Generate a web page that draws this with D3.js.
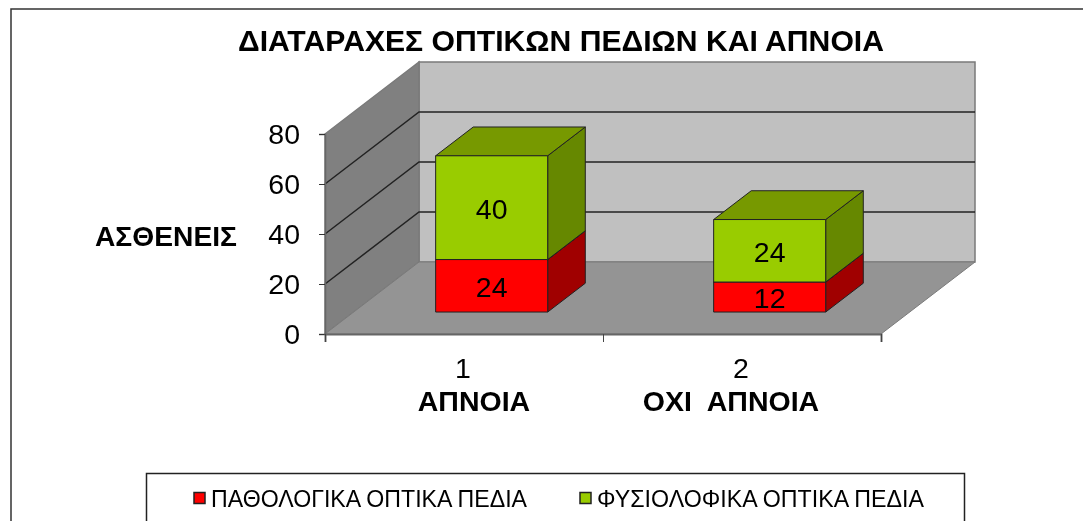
<!DOCTYPE html>
<html>
<head>
<meta charset="utf-8">
<script src="https://cdn.jsdelivr.net/npm/d3@7"></script>
<style>
html, body { margin: 0; padding: 0; background: #fff; overflow: hidden; }
svg { filter: blur(0.45px); }
text { font-family: "Liberation Sans", Arial, sans-serif; fill: #000; }
</style>
</head>
<body>
<svg id="chart" width="1083" height="521"></svg>
<script>
const titleText = 'ΔΙΑΤΑΡΑΧΕΣ ΟΠΤΙΚΩΝ ΠΕΔΙΩΝ ΚΑΙ ΑΠΝΟΙΑ';
const yAxisTitle = 'ΑΣΘΕΝΕΙΣ';
const categories = ['1', '2'];
const categoryNames = ['ΑΠΝΟΙΑ', 'ΟΧΙ  ΑΠΝΟΙΑ'];
const yTicks = [0, 20, 40, 60, 80];
const seriesNames = ['ΠΑΘΟΛΟΓΙΚΑ ΟΠΤΙΚΑ ΠΕΔΙΑ', 'ΦΥΣΙΟΛΟΦΙΚΑ ΟΠΤΙΚΑ ΠΕΔΙΑ'];
// printed labels
const pathLabels = [24, 12];
const normalLabels = [40, 24];
// heights as drawn against the axis (the first red bar is drawn lower than its label says)
const pathValues = [21, 12];
const normalValues = [41.5, 25];

const colors = [
    { front: '#ff0000', top: '#b00000', side: '#a00000' },
    { front: '#99cc00', top: '#779900', side: '#668800' }
];

const svg = d3.select('#chart');

// 3D box geometry
const x0 = 325, x1 = 881, y0 = 334, y1 = 134;
const depthX = 94, depthY = 72;
const barDepthStart = 0.305, barDepthEnd = 0.705;

const y = d3.scaleLinear().domain([0, 80]).range([y0, y1]);
const xBand = d3.scaleBand().domain(categories).range([x0 - 1, x1 - 1]).paddingInner(0.597).paddingOuter(0.2985);
const xEdges = d3.scaleLinear().domain([0, 2]).range([x0, x1]);

const pt = (x, v, d) => [x + d * depthX, y(v) - d * depthY];
const poly = (pts) => 'M' + pts.map(p => p.join(',')).join('L') + 'Z';

// outer frame, open at right and bottom
svg.append('path')
    .attr('d', 'M11,521L11,9L1083,9')
    .attr('fill', 'none').attr('stroke', '#333').attr('stroke-width', 1.5);

// walls and floor
const wallEdge = '#7a7a7a';
svg.append('path')
    .attr('d', poly([pt(x0, 0, 1), pt(x1, 0, 1), pt(x1, 80, 1), pt(x0, 80, 1)]))
    .attr('fill', '#c0c0c0').attr('stroke', wallEdge).attr('stroke-width', 1.5);
svg.append('path')
    .attr('d', poly([pt(x0, 0, 0), pt(x0, 0, 1), pt(x0, 80, 1), pt(x0, 80, 0)]))
    .attr('fill', '#808080').attr('stroke', wallEdge).attr('stroke-width', 1.5);
svg.append('path')
    .attr('d', poly([pt(x0, 0, 0), pt(x1, 0, 0), pt(x1, 0, 1), pt(x0, 0, 1)]))
    .attr('fill', '#949494').attr('stroke', wallEdge).attr('stroke-width', 1);

// gridlines
svg.append('g').selectAll('path')
    .data(yTicks.filter(d => d > 0 && d < 80))
    .join('path')
    .attr('d', d => 'M' + pt(x0, d, 0) + 'L' + pt(x0, d, 1) + 'L' + pt(x1, d, 1))
    .attr('fill', 'none').attr('stroke', '#222').attr('stroke-width', 1.5);

// bars
const layers = [
    { values: pathValues, labels: pathLabels, color: colors[0], base: categories.map(() => 0) },
    { values: normalValues, labels: normalLabels, color: colors[1], base: pathValues }
];
const barEdge = '#222';
categories.forEach((c, i) => {
    const left = xBand(c), right = left + xBand.bandwidth();
    layers.forEach((l) => {
        const lo = l.base[i], hi = lo + l.values[i];
        const g = svg.append('g').attr('stroke', barEdge).attr('stroke-width', 1).attr('stroke-linejoin', 'round');
        g.append('path')
            .attr('d', poly([pt(right, lo, barDepthStart), pt(right, lo, barDepthEnd), pt(right, hi, barDepthEnd), pt(right, hi, barDepthStart)]))
            .attr('fill', l.color.side);
        g.append('path')
            .attr('d', poly([pt(left, hi, barDepthStart), pt(right, hi, barDepthStart), pt(right, hi, barDepthEnd), pt(left, hi, barDepthEnd)]))
            .attr('fill', l.color.top);
        g.append('path')
            .attr('d', poly([pt(left, lo, barDepthStart), pt(right, lo, barDepthStart), pt(right, hi, barDepthStart), pt(left, hi, barDepthStart)]))
            .attr('fill', l.color.front);
    });
    layers.forEach((l) => {
        const lo = l.base[i], hi = lo + l.values[i];
        const p = pt((left + right) / 2, (lo + hi) / 2, barDepthStart);
        svg.append('text')
            .attr('x', p[0]).attr('y', p[1] + 11)
            .attr('text-anchor', 'middle')
            .attr('font-size', 28.5)
            .text(l.labels[i]);
    });
});

// y axis
const yAxis = svg.append('g')
    .attr('transform', `translate(${x0},0)`)
    .call(d3.axisLeft(y).tickValues(yTicks).tickSize(6).tickPadding(19));
yAxis.select('.domain').attr('stroke', '#666').attr('stroke-width', 1.5);
yAxis.selectAll('.tick line').attr('stroke', '#333');
yAxis.selectAll('.tick text').attr('font-size', 28.5).attr('font-family', null);

// x axis ticks sit on the category edges
const xAxis = svg.append('g')
    .attr('transform', `translate(0,${y0})`)
    .call(d3.axisBottom(xEdges).tickValues([0, 1, 2]).tickSize(8).tickFormat(''));
xAxis.select('.domain').attr('stroke', '#666').attr('stroke-width', 2);
xAxis.selectAll('.tick line').attr('stroke', '#444');

const catLabel = svg.append('g').attr('text-anchor', 'middle');
categories.forEach((c, i) => {
    const cx = xBand(c) + xBand.bandwidth() / 2;
    catLabel.append('text')
        .attr('x', cx).attr('y', 378)
        .attr('font-size', 28.5)
        .text(c);
    catLabel.append('text')
        .attr('x', i === 0 ? cx + 11 : cx - 10).attr('y', 411)
        .attr('font-size', 28.5).attr('font-weight', 'bold')
        .style('white-space', 'pre')
        .text(categoryNames[i]);
});

// titles
svg.append('text')
    .attr('x', 561).attr('y', 51)
    .attr('text-anchor', 'middle')
    .attr('font-size', 30).attr('font-weight', 'bold')
    .attr('textLength', 646).attr('lengthAdjust', 'spacingAndGlyphs')
    .text(titleText);
svg.append('text')
    .attr('x', 95).attr('y', 246)
    .attr('font-size', 28.5).attr('font-weight', 'bold')
    .attr('textLength', 142).attr('lengthAdjust', 'spacingAndGlyphs')
    .text(yAxisTitle);

// legend, runs off the bottom of the picture
svg.append('path')
    .attr('d', 'M146.5,521L146.5,473.5L964.5,473.5L964.5,521')
    .attr('fill', 'none').attr('stroke', '#222').attr('stroke-width', 1.5);
const legendX = [194, 580];
const legendW = [316, 327];
seriesNames.forEach((name, i) => {
    svg.append('rect')
        .attr('x', legendX[i]).attr('y', 492.5)
        .attr('width', 11).attr('height', 11)
        .attr('fill', colors[i].front).attr('stroke', '#222').attr('stroke-width', 1.5);
    svg.append('text')
        .attr('x', legendX[i] + 17).attr('y', 507)
        .attr('font-size', 24)
        .attr('textLength', legendW[i]).attr('lengthAdjust', 'spacingAndGlyphs')
        .text(name);
});
</script>
</body>
</html>
